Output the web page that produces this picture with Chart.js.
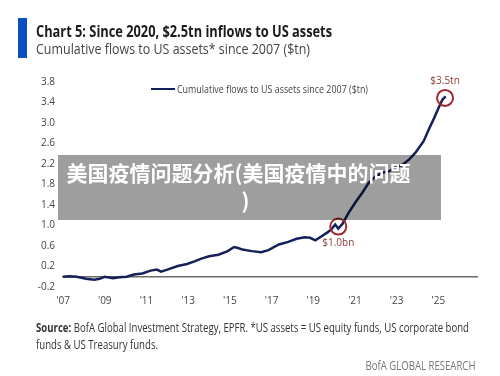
<!DOCTYPE html>
<html>
<head>
<meta charset="utf-8">
<script src="https://cdn.jsdelivr.net/npm/chart.js@4.4.1/dist/chart.umd.min.js"></script>
<style>
  body { margin: 0; background: #fff; font-family: "Open Sans", sans-serif; }
  #wrap { position: relative; width: 500px; height: 376px; overflow: hidden; }
  #chart { position: absolute; left: 0; top: 0; }
  .txt { position: absolute; white-space: nowrap; transform-origin: left center; }
  #bar { position: absolute; left: 18px; top: 18px; width: 9px; height: 40px; background: #0c4fc2; }
  #title { left: 36px; top: 21px; font-size: 16px; font-weight: 700; color: #1b1b1b; line-height: 20px; }
  #sub { left: 36px; top: 39px; font-size: 14px; color: #444; line-height: 20px; }
  #legLine { position: absolute; left: 151px; top: 88px; width: 24px; height: 2px; background: #15205a; }
  #legTxt { left: 177px; top: 82px; font-size: 10px; color: #444; line-height: 14px; }
  #src1 { left: 36px; top: 320px; font-size: 12px; color: #333; line-height: 16px; }
  #src2 { left: 36px; top: 337px; font-size: 12px; color: #333; line-height: 16px; }
  #foot { right: 25px; top: 358px; font-size: 12px; color: #777; line-height: 16px; transform-origin: right center; }
  #mask { position: absolute; left: 58px; top: 155px; width: 383px; height: 65px; background: rgba(0,0,0,0.38);
          color: #fff; font-family: "Noto Sans CJK SC", sans-serif; font-weight: 700; font-size: 21px;
          line-height: 28px; text-align: center; padding: 3px 22px 0 0; box-sizing: border-box; }
</style>
</head>
<body>
<div id="wrap">
  <canvas id="chart" width="500" height="376"></canvas>
  <div id="bar"></div>
  <div class="txt" id="title">Chart 5: Since 2020, $2.5tn inflows to US assets</div>
  <div class="txt" id="sub">Cumulative flows to US assets* since 2007 ($tn)</div>
  <div id="legLine"></div>
  <div class="txt" id="legTxt">Cumulative flows to US assets since 2007 ($tn)</div>
  <div class="txt" id="src1"><b>Source:</b> BofA Global Investment Strategy, EPFR. *US assets = US equity funds, US corporate bond</div>
  <div class="txt" id="src2">funds &amp; US Treasury funds.</div>
  <div class="txt" id="foot">BofA GLOBAL RESEARCH</div>
  <div id="mask">美国疫情问题分析(美国疫情中的问题<br><span style="padding-left:14px">)</span></div>
</div>
<script>
// cumulative flows ($tn)
var years = [2007.0, 2007.3, 2007.65, 2008.1, 2008.5, 2008.75, 2009.0, 2009.4, 2009.7, 2010.05,
  2010.4, 2010.8, 2011.2, 2011.5, 2011.7, 2012.0, 2012.5, 2012.95, 2013.3, 2013.6,
  2014.0, 2014.45, 2014.9, 2015.2, 2015.4, 2015.6, 2016.05, 2016.5, 2016.85, 2017.35,
  2017.8, 2018.2, 2018.6, 2018.85, 2019.1, 2019.4, 2019.7, 2019.9, 2020.05, 2020.2,
  2020.4, 2020.7, 2021.0, 2021.35, 2021.65, 2022.0, 2022.3, 2022.65, 2022.95, 2023.3,
  2023.6, 2023.9, 2024.3, 2024.5, 2024.8, 2025.05, 2025.2, 2025.35];
var flows = [0.0, 0.01, 0.0, -0.04, -0.06, -0.04, 0.0, -0.03, -0.01, 0.0,
  0.045, 0.065, 0.12, 0.14, 0.10, 0.14, 0.21, 0.25, 0.30, 0.35,
  0.40, 0.43, 0.50, 0.58, 0.56, 0.53, 0.50, 0.48, 0.52, 0.63,
  0.68, 0.74, 0.77, 0.76, 0.71, 0.79, 0.87, 0.94, 1.02, 0.94,
  1.03, 1.25, 1.44, 1.64, 1.83, 1.96, 2.03, 2.06, 2.13, 2.19,
  2.29, 2.42, 2.65, 2.84, 3.10, 3.33, 3.46, 3.52];

// circled points and their labels
var markYears = [2020.2, 2025.32];
var markValues = [0.98, 3.49];
var markLabels = ['$1.0bn', '$3.5tn'];

var xTicks = [2007, 2009, 2011, 2013, 2015, 2017, 2019, 2021, 2023, 2025];
var yTicks = [-0.2, 0.2, 0.6, 1.0, 1.4, 1.8, 2.2, 2.6, 3.0, 3.4, 3.8];
var xMin = 2006.95, xMax = 2026.9;

function pts(xs, ys) {
  return xs.map(function(x, i) { return { x: x, y: ys[i] }; });
}

// labels above / below the red circles
var markLabelPlugin = {
  id: 'markLabels',
  afterDatasetsDraw: function(chart) {
    var ctx = chart.ctx;
    var xs = chart.scales.x, ys = chart.scales.y;
    ctx.save();
    ctx.font = '10px "Open Sans"';
    ctx.fillStyle = '#8e3a30';
    ctx.textAlign = 'center';
    ctx.textBaseline = 'middle';
    for (var i = 0; i < markYears.length; i++) {
      var px = xs.getPixelForValue(markYears[i]);
      var py = ys.getPixelForValue(markValues[i]);
      var off = i === 0 ? 17 : -17;
      ctx.fillText(markLabels[i], px, py + off);
    }
    ctx.restore();
  }
};

var ctx = document.getElementById('chart');
window.flowChart = new Chart(ctx, {
  type: 'scatter',
  data: {
    datasets: [{
      label: 'marks',
      data: pts(markYears, markValues),
      showLine: false,
      pointRadius: 8,
      pointBorderWidth: 2,
      pointBorderColor: '#a3282c',
      pointBackgroundColor: 'rgba(0,0,0,0)',
      order: 0
    }, {
      label: 'Cumulative flows to US assets since 2007 ($tn)',
      data: pts(years, flows),
      showLine: true,
      borderColor: '#15205a',
      borderWidth: 2.5,
      pointRadius: 0,
      tension: 0,
      order: 1
    }, {
      label: 'zero',
      data: pts([xMin, xMax], [0, 0]),
      showLine: true,
      borderColor: '#6a6a6a',
      borderWidth: 1.5,
      pointRadius: 0,
      order: 2
    }]
  },
  options: {
    responsive: false,
    animation: false,
    layout: { padding: { top: 82, right: 22, bottom: 69, left: 0 } },
    plugins: { legend: { display: false }, tooltip: { enabled: false } },
    scales: {
      x: {
        type: 'linear',
        min: xMin,
        max: xMax,
        afterBuildTicks: function(axis) { axis.ticks = xTicks.map(function(v) { return { value: v }; }); },
        afterFit: function(axis) { axis.height = 20; },
        grid: { display: false, drawTicks: false },
        border: { display: false },
        ticks: {
          padding: 8,
          color: '#444',
          font: { family: 'Open Sans', size: 10 },
          maxRotation: 0,
          callback: function(v) { return "'" + String(v).slice(2); }
        }
      },
      y: {
        min: -0.2,
        max: 3.8,
        afterBuildTicks: function(axis) { axis.ticks = yTicks.map(function(v) { return { value: v }; }); },
        afterFit: function(axis) { axis.width = 62; },
        grid: { display: false, drawTicks: false },
        border: { display: false },
        ticks: {
          padding: 7,
          color: '#444',
          font: { family: 'Open Sans', size: 10 },
          callback: function(v) { return v.toFixed(1); }
        }
      }
    }
  },
  plugins: [markLabelPlugin]
});

// squeeze text into the widths seen in the picture
function fitWidth(id, w) {
  var el = document.getElementById(id);
  var cur = el.getBoundingClientRect().width;
  el.style.transform = 'scaleX(' + (w / cur) + ')';
}
fitWidth('title', 296);
fitWidth('sub', 274);
fitWidth('legTxt', 191);
fitWidth('src1', 433);
fitWidth('src2', 122);
fitWidth('foot', 110);
</script>
</body>
</html>
